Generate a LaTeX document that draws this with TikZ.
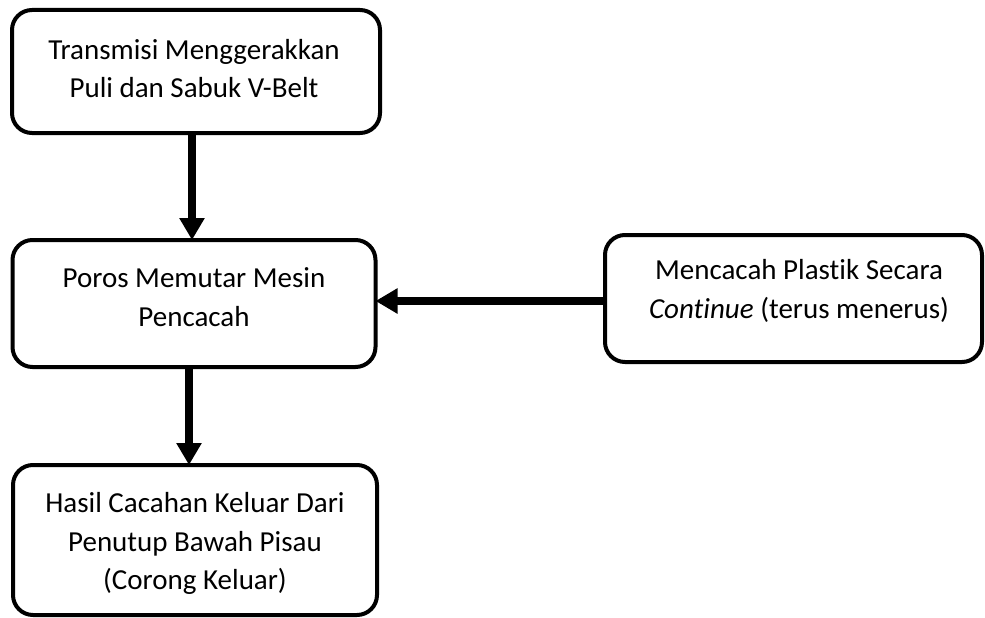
\documentclass[tikz,border=0pt]{standalone}
\usepackage{fontspec}
\setmainfont{Carlito}[Ligatures=NoCommon]
\usetikzlibrary{arrows.meta}
\begin{document}
\begin{tikzpicture}[x=1pt,y=-1pt,
  box/.style={draw, line width=4pt, rounded corners=20pt,
    inner sep=0pt, outer sep=0pt},
  txt/.style={align=center, inner sep=0pt, font=\fontsize{29}{38.5}\selectfont},
  arr/.style={line width=8pt, -{Triangle[width=24pt,length=22pt]}}]
\useasboundingbox (0,0) rectangle (985,618);
\node[box, minimum width=368pt, minimum height=123pt] (b1) at (196,71.5) {};
\node[box, minimum width=363pt, minimum height=127pt] (b2) at (194,303.5) {};
\node[box, minimum width=364pt, minimum height=150pt] (b3) at (195,540) {};
\node[box, minimum width=377pt, minimum height=127pt] (b4) at (793.5,298.5) {};
\node[txt] (t1) at (194,68.5) {Transmisi Menggerakkan\\Puli dan Sabuk V-Belt};
\node[txt] (t2) at (194,297) {Poros Memutar Mesin\\Pencacah};
\node[txt] (t3) at (195,543.5) {Hasil Cacahan Keluar Dari\\Penutup Bawah Pisau\\(Corong Keluar)};
\node[txt] (t4) at (799,291) {Mencacah Plastik Secara\\\textit{Continue} (terus menerus)};
\draw[arr] ([xshift=-4pt]b1.south) -- ([xshift=-2pt]b2.north);
\draw[arr] ([xshift=-5pt]b2.south) -- ([xshift=-6pt]b3.north);
\draw[arr] ([yshift=-2.5pt]b4.west) coordinate (s) -- (s -| b2.east);
\end{tikzpicture}
\end{document}
